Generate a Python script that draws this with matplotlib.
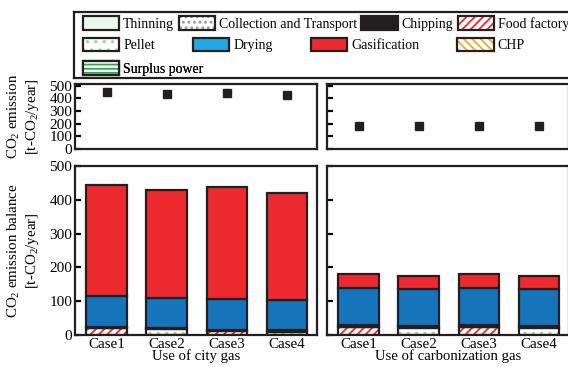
import numpy as np
import matplotlib
matplotlib.use('Agg')
import matplotlib.pyplot as plt
from matplotlib.patches import Patch
from matplotlib.legend_handler import HandlerTuple

plt.rcParams['font.family'] = ['Liberation Serif', 'DejaVu Serif']
plt.rcParams['mathtext.fontset'] = 'custom'
plt.rcParams['mathtext.rm'] = 'Liberation Serif'
plt.rcParams['mathtext.it'] = 'Liberation Serif:italic'
plt.rcParams['font.size'] = 11
plt.rcParams['hatch.linewidth'] = 1.3

cases = ['Case1', 'Case2', 'Case3', 'Case4']
group_labels = ['Use of city gas', 'Use of carbonization gas']

# CO2 emission balance components [t-CO2/year], stacked bottom -> top
food_city = [20, 0, 12, 0]
pellet_city = [0, 18, 0, 10]
chip_city = [4, 4, 4, 4]
drying_city = [91, 88, 91, 89]
gasif_city = [329, 318, 331, 318]

food_carb = [25, 0, 25, 0]
pellet_carb = [0, 22, 0, 22]
chip_carb = [5, 5, 5, 5]
drying_carb = [110, 110, 110, 109]
gasif_carb = [39, 37, 39, 38]

# CO2 emission [t-CO2/year]
emission_city = [446, 430, 440, 424]
emission_carb = [180, 180, 180, 180]

EDGE = '#231F20'
styles = {
    'Thinning': dict(fc='#eef7ee', hc='#3DAA5A', hatch='::::::'),
    'Collection and Transport': dict(fc='white', hc='#9a9a9a', hatch='...'),
    'Chipping': dict(fc=EDGE),
    'Food factory': dict(fc='white', hc='#EE2A30', hatch='////'),
    'Pellet': dict(fc='white', hc='#a8d5a8', hatch='..'),
    'Drying': dict(fc='#1674BA'),
    'Gasification': dict(fc='#EC2A2F'),
    'CHP': dict(fc='white', hc='#F7A823', hatch='\\\\\\\\'),
    'Surplus power': dict(fc='white', hc='#2DA84A', hatch='----'),
}
legend_fc = {'Drying': '#22A8E0'}

x = np.arange(len(cases))
width = 0.68


def stack(ax, layers):
    bottom = np.zeros(len(cases))
    for name, vals in layers:
        vals = np.asarray(vals, float)
        st = styles[name]
        ax.bar(x, vals, width, bottom=bottom, color=st['fc'], hatch=st.get('hatch'),
               edgecolor=st.get('hc', st['fc']), linewidth=0)
        ax.bar(x, vals, width, bottom=bottom, fill=False, edgecolor=EDGE, linewidth=1.6)
        bottom += vals


def style_axes(ax, ylim, yticks, show_y, show_x):
    ax.set_xlim(-0.53, 3.5)
    ax.set_ylim(*ylim)
    ax.set_yticks(yticks)
    for s in ax.spines.values():
        s.set_linewidth(1.6)
        s.set_color(EDGE)
    ax.tick_params(axis='y', direction='in', length=4, width=1.6, pad=2, labelsize=11)
    ax.tick_params(axis='x', length=0, pad=2, labelsize=10.8)
    if not show_y:
        ax.set_yticklabels([])
    if show_x:
        ax.set_xticks(x)
        ax.set_xticklabels(cases)
    else:
        ax.set_xticks([])


W, H = 568, 367
fig = plt.figure(figsize=(W / 100, H / 100), dpi=100)

ax_tl = fig.add_axes([75 / W, (H - 149) / H, 242 / W, 65 / H])
ax_tr = fig.add_axes([327 / W, (H - 149) / H, 242 / W, 65 / H])
ax_bl = fig.add_axes([75 / W, 32 / H, 242 / W, 169 / H])
ax_br = fig.add_axes([327 / W, 32 / H, 242 / W, 169 / H])

# top: emissions
ax_tl.plot(x, emission_city, 's', color=EDGE, markersize=5.5)
ax_tr.plot(x, emission_carb, 's', color=EDGE, markersize=5.5)
style_axes(ax_tl, (0, 512), [0, 100, 200, 300, 400, 500], True, False)
style_axes(ax_tr, (0, 512), [0, 100, 200, 300, 400, 500], False, False)

# bottom: balance
stack(ax_bl, [('Food factory', food_city), ('Pellet', pellet_city), ('Chipping', chip_city),
              ('Drying', drying_city), ('Gasification', gasif_city)])
stack(ax_br, [('Food factory', food_carb), ('Pellet', pellet_carb), ('Chipping', chip_carb),
              ('Drying', drying_carb), ('Gasification', gasif_carb)])
style_axes(ax_bl, (0, 500), [0, 100, 200, 300, 400, 500], True, True)
style_axes(ax_br, (0, 500), [0, 100, 200, 300, 400, 500], False, True)

ax_bl.set_xlabel(group_labels[0], fontsize=10.6, labelpad=-1)
ax_br.set_xlabel(group_labels[1], fontsize=10.6, labelpad=-1)

ax_tl.set_ylabel('CO$_\\mathrm{2}$ emission\n[t-CO$_\\mathrm{2}$/year]', fontsize=10.8, linespacing=1.15)
ax_bl.set_ylabel('CO$_\\mathrm{2}$ emission balance\n[t-CO$_\\mathrm{2}$/year]', fontsize=10.8, linespacing=1.15)
ax_tl.yaxis.set_label_coords(-0.14, 0.5)
ax_bl.yaxis.set_label_coords(-0.14, 0.5)

# legend box
leg_ax = fig.add_axes([74 / W, (H - 78) / H, 496 / W, 66 / H])
leg_ax.set_xticks([])
leg_ax.set_yticks([])
for s in leg_ax.spines.values():
    s.set_linewidth(1.6)
    s.set_color(EDGE)


def handle(name):
    st = styles[name]
    fc = legend_fc.get(name, st['fc'])
    fill = Patch(facecolor=fc, hatch=st.get('hatch'), edgecolor=st.get('hc', fc), linewidth=0)
    outline = Patch(facecolor='none', edgecolor=EDGE, linewidth=1.6)
    return (fill, outline)


rows = [
    (['Thinning', 'Collection and Transport', 'Chipping', 'Food factory'], 0.32, 0.827),
    (['Pellet', 'Drying', 'Gasification', 'CHP'], 2.75, 0.503),
    (['Surplus power'], 0.32, 0.145),
]
for names, colsp, yc in rows:
    leg = leg_ax.legend([handle(n) for n in names], names, ncol=len(names),
                        handler_map={tuple: HandlerTuple(ndivide=1)},
                        loc='center left', bbox_to_anchor=(0.018, yc),
                        frameon=False, borderpad=0, borderaxespad=0,
                        handlelength=2.6, handleheight=1.15, handletextpad=0.3,
                        columnspacing=colsp, fontsize=10)
    leg_ax.add_artist(leg)

fig.savefig('out.png', dpi=100)
